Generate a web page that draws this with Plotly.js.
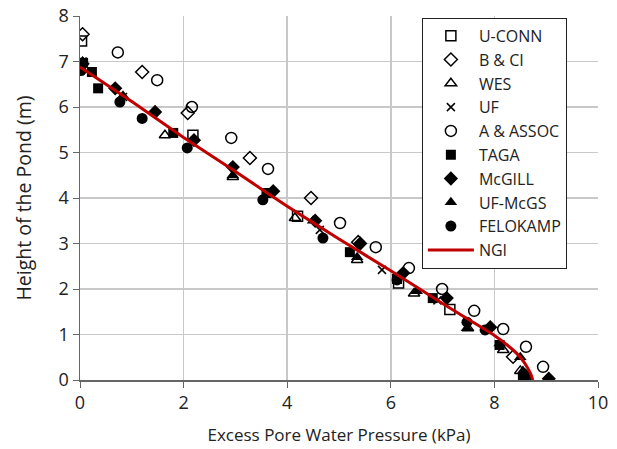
<!DOCTYPE html>
<html>
<head>
<meta charset="utf-8">
<script src="https://cdn.plot.ly/plotly-3.0.1.min.js"></script>
<style>html,body{margin:0;padding:0;background:#fff;}#chart{width:617px;height:449px;}</style>
</head>
<body>
<div id="chart"></div>
<script>
const uconnX = [0.03, 2.18, 4.2, 6.15, 7.14, 8.6];
const uconnY = [7.45, 5.38, 3.6, 2.13, 1.55, 0.05];
const bciX = [0.05, 1.2, 2.08, 3.28, 4.46, 5.37, 8.36];
const bciY = [7.6, 6.77, 5.87, 4.88, 4.0, 3.03, 0.51];
const wesX = [1.64, 2.95, 4.15, 5.35, 6.45, 7.49, 8.17, 8.5];
const wesY = [5.38, 4.46, 3.56, 2.64, 1.9, 1.14, 0.66, 0.2];
const ufX = [0.05, 0.83, 4.63, 5.83, 6.9];
const ufY = [7.0, 6.22, 3.3, 2.42, 1.75];
const assocX = [0.73, 1.49, 2.16, 2.92, 3.63, 5.02, 5.71, 6.35, 6.99, 7.61, 8.17, 8.61, 8.94];
const assocY = [7.2, 6.59, 6.0, 5.32, 4.64, 3.45, 2.92, 2.46, 2.0, 1.52, 1.12, 0.73, 0.29];
const tagaX = [0.06, 0.23, 0.35, 1.8, 3.6, 5.21, 6.12, 6.81, 8.1, 8.55];
const tagaY = [6.97, 6.77, 6.41, 5.43, 4.11, 2.81, 2.22, 1.8, 0.77, 0.05];
const mcgillX = [0.05, 0.68, 1.45, 2.2, 2.95, 3.73, 4.54, 5.41, 6.24, 7.08, 7.92, 8.6, 9.05];
const mcgillY = [6.95, 6.41, 5.89, 5.27, 4.68, 4.15, 3.5, 3.0, 2.35, 1.8, 1.16, 0.1, 0.03];
const ufmcgsX = [0.05, 0.83, 2.95, 4.5, 5.35, 6.5, 7.47, 8.1, 8.5, 8.55];
const ufmcgsY = [7.0, 6.25, 4.5, 3.5, 2.7, 1.95, 1.14, 0.8, 0.5, 0.2];
const feloX = [0.02, 0.77, 1.2, 2.07, 3.53, 4.69, 6.12, 7.47, 7.82, 8.6];
const feloY = [6.8, 6.11, 5.75, 5.1, 3.96, 3.12, 2.2, 1.27, 1.1, 0.08];
const ngiX = [0, 1, 2, 3, 4, 5, 6, 7, 7.5, 8, 8.3, 8.5, 8.65, 8.72, 8.74];
const ngiY = [6.88, 6.12, 5.33, 4.58, 3.82, 3.1, 2.4, 1.68, 1.33, 0.98, 0.72, 0.5, 0.25, 0.08, 0];

const FONT = '"Open Sans", Lato, sans-serif';
function sc(name, x, y, symbol, size) {
  const open = symbol.indexOf('open') >= 0 || symbol === 'x-thin';
  return {
    type: 'scatter', mode: 'markers', name: name, x: x, y: y,
    marker: {symbol: symbol, size: size, color: '#000',
             line: {color: '#000', width: open ? 1.5 : 0}}
  };
}
const data = [
  sc('U-CONN', uconnX, uconnY, 'square-open', 10),
  sc('B & CI', bciX, bciY, 'diamond-open', 10),
  sc('WES', wesX, wesY, 'triangle-up-open', 10),
  sc('UF', ufX, ufY, 'x-thin', 8),
  sc('A & ASSOC', assocX, assocY, 'circle-open', 11),
  sc('TAGA', tagaX, tagaY, 'square', 10),
  sc('McGILL', mcgillX, mcgillY, 'diamond', 11),
  sc('UF-McGS', ufmcgsX, ufmcgsY, 'triangle-up', 11),
  sc('FELOKAMP', feloX, feloY, 'circle', 11),
  {type: 'scatter', mode: 'lines', name: 'NGI', x: ngiX, y: ngiY,
   line: {color: '#c00000', width: 3, shape: 'spline', smoothing: 0.6}}
];
const layout = {
  width: 617, height: 449,
  margin: {l: 80, r: 19, t: 16, b: 69},
  paper_bgcolor: '#fff', plot_bgcolor: '#fff',
  font: {family: FONT, size: 17, color: '#222'},
  showlegend: true,
  legend: {x: 0.66, y: 0.995, xanchor: 'left', yanchor: 'top',
           bgcolor: '#fff', bordercolor: '#222', borderwidth: 1,
           itemwidth: 46,
           font: {family: FONT, size: 16, color: '#222'}},
  xaxis: {range: [0, 10], dtick: 2, tick0: 0, showgrid: true, gridcolor: '#c8c8c8', gridwidth: 1.5,
          zeroline: false, showline: true, linecolor: '#666', linewidth: 1.5,
          ticks: 'outside', ticklen: 6, tickcolor: '#666',
          tickfont: {family: FONT, size: 18},
          title: {text: 'Excess Pore Water Pressure (kPa)', font: {family: FONT, size: 17}, standoff: 16}},
  yaxis: {range: [0, 8], dtick: 1, tick0: 0, showgrid: true, gridcolor: '#c8c8c8', gridwidth: 1.5,
          zeroline: false, showline: true, linecolor: '#666', linewidth: 1.5,
          ticks: 'outside', ticklen: 6, tickcolor: '#666',
          tickfont: {family: FONT, size: 18},
          title: {text: 'Height of the Pond (m)', font: {family: FONT, size: 19.5}, standoff: 22}}
};
Plotly.newPlot('chart', data, layout, {displayModeBar: false, staticPlot: true});
</script>
</body>
</html>
